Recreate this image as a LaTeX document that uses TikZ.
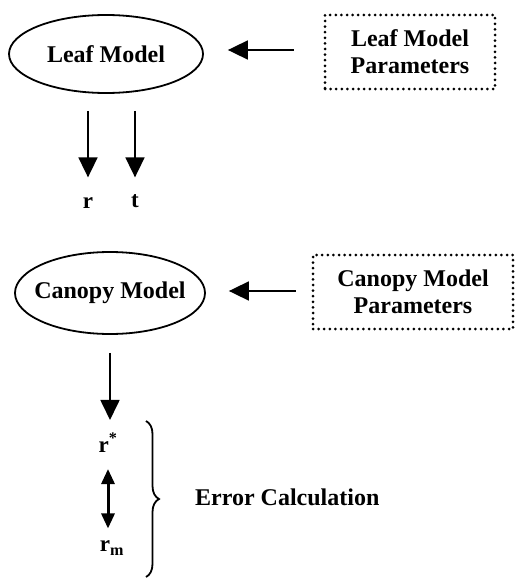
\documentclass[tikz,border=0pt]{standalone}
\usepackage{fontspec}
\setmainfont{Liberation Serif}
\usetikzlibrary{arrows.meta,shapes.geometric,calc,decorations.pathreplacing}
\begin{document}
\begin{tikzpicture}[x=1pt,y=-1pt,
  every node/.style={font=\fontsize{24}{27}\selectfont\bfseries, inner sep=0pt},
  model/.style={draw, ellipse, line width=1.8pt, inner xsep=-12pt},
  params/.style={draw, line width=3pt, dash pattern=on 0pt off 5.6pt, line cap=round, align=center},
  arr/.style={line width=1.8pt, -{Triangle[length=20pt,width=19pt]}},
  darr/.style={line width=3pt, {Triangle[length=15pt,width=13pt]}-{Triangle[length=15pt,width=13pt]}},
  lbl/.style={font=\fontsize{23}{26}\selectfont\bfseries}
]
\useasboundingbox (0,0) rectangle (516,578);
% top
\node[model, minimum width=194pt, minimum height=78pt] (leaf) at (106,54) {Leaf Model};
\node[params, minimum width=170pt, minimum height=74pt] (leafp) at (410,52) {Leaf Model\\Parameters};
\draw[arr] ($(leafp.west)+(-30,-2)$) -- ($(leaf.east)+(24,-4)$);
\node[lbl] (r) at (88,203) {r};
\node[lbl] (t) at (135,201) {t};
\draw[arr] ($(r |- leaf.south)+(0,17)$) -- ($(r.north)+(0,-20)$);
\draw[arr] ($(t |- leaf.south)+(0,17)$) -- ($(t |- r.north)+(0,-20)$);
% bottom
\node[model, minimum width=190pt, minimum height=82pt] (canopy) at (110,293) {Canopy Model};
\node[params, minimum width=200pt, minimum height=74pt] (canp) at (413,292) {Canopy Model\\Parameters};
\draw[arr] ($(canp.west)+(-16,-1)$) -- ($(canopy.east)+(23,-2)$);
\node[lbl] (rs) at (108,443) {r\textsuperscript{*}};
\draw[arr] ($(canopy.south)+(0,18)$) -- ($(canopy.south |- rs.north)+(0,-13)$);
\node[lbl] (rm) at (112,548) {r\textsubscript{m}};
\draw[darr] ($(rs.south -| 108,0)+(0,16)$) -- ($(rm.north -| 108,0)+(0,-12)$);
\coordinate (btop) at (146,421);
\coordinate (bbot) at (146,577);
\draw[line width=1.8pt, decorate, decoration={brace, amplitude=13pt}] (btop) -- (bbot);
\node[anchor=west] (err) at (195,497) {Error Calculation};
\end{tikzpicture}
\end{document}
